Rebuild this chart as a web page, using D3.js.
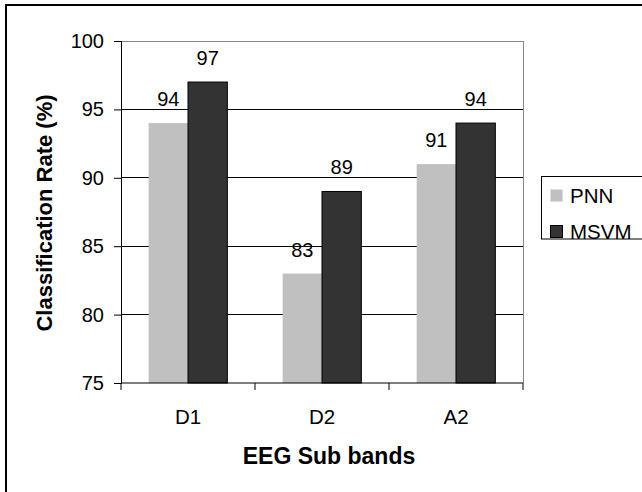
<!DOCTYPE html>
<html>
<head>
<meta charset="utf-8">
<script src="https://cdn.jsdelivr.net/npm/d3@7"></script>
<style>
  html, body { margin: 0; padding: 0; background: #fff; }
  svg { display: block; font-family: "Liberation Sans", Arial, Helvetica, sans-serif; }
</style>
</head>
<body>
<svg id="chart" width="642" height="492"></svg>
<script>
const categories = ["D1", "D2", "A2"];
const seriesNames = ["PNN", "MSVM"];
const pnnValues = [94, 83, 91];
const msvmValues = [97, 89, 94];
const yTicks = [75, 80, 85, 90, 95, 100];
const seriesColors = ["#c0c0c0", "#333333"];

const seriesValues = [pnnValues, msvmValues];
const svg = d3.select("#chart");

// outer frame
svg.append("rect")
  .attr("x", 6).attr("y", 5).attr("width", 700).attr("height", 600)
  .attr("fill", "#fff").attr("stroke", "#000").attr("stroke-width", 2);

const plot = { left: 121, right: 523, top: 41, bottom: 383 };

const x0 = d3.scaleBand().domain(categories)
  .range([plot.left, plot.right]).paddingInner(0.413).paddingOuter(0.2065);
const x1 = d3.scaleBand().domain(seriesNames).range([0, x0.bandwidth()]).padding(0);
const y = d3.scaleLinear().domain([75, 100]).range([plot.bottom, plot.top]);

// gridlines
svg.append("g").selectAll("line")
  .data(yTicks.filter(t => t > 75 && t < 100))
  .join("line")
  .attr("x1", plot.left).attr("x2", plot.right)
  .attr("y1", d => y(d)).attr("y2", d => y(d))
  .attr("stroke", "#000").attr("stroke-width", 1).attr("shape-rendering", "crispEdges");

// plot border top/right (gray)
svg.append("path")
  .attr("d", `M${plot.left},${y(100)}H${plot.right}V${plot.bottom}`)
  .attr("fill", "none").attr("stroke", "#888").attr("stroke-width", 1).attr("shape-rendering", "crispEdges");

// bars
const groups = svg.append("g").selectAll("g")
  .data(categories)
  .join("g")
  .attr("transform", d => `translate(${x0(d)},0)`);

groups.selectAll("rect")
  .data((d, i) => seriesNames.map((s, j) => ({ s, j, v: seriesValues[j][i] })))
  .join("rect")
  .attr("x", d => x1(d.s))
  .attr("y", d => y(d.v))
  .attr("width", x1.bandwidth())
  .attr("height", d => y(75) - y(d.v))
  .attr("fill", d => seriesColors[d.j])
  .attr("stroke", d => d.j === 1 ? "#000" : "none")
  .attr("stroke-width", 1);

groups.selectAll("text")
  .data((d, i) => seriesNames.map((s, j) => ({ s, j, v: seriesValues[j][i] })))
  .join("text")
  .attr("x", d => x1(d.s) + x1.bandwidth() / 2)
  .attr("y", d => y(d.v) - 17)
  .attr("text-anchor", "middle")
  .attr("font-size", 20)
  .attr("fill", "#000")
  .text(d => d.v);

// y axis
const yAxis = d3.axisLeft(y).tickValues(yTicks).tickSize(7).tickPadding(10);
const gy = svg.append("g").attr("transform", `translate(${plot.left},0)`).call(yAxis);
gy.select(".domain").attr("stroke", "#000");
gy.selectAll(".tick line").attr("stroke", "#000");
gy.selectAll("text").attr("font-size", 20).attr("fill", "#000")
  .attr("font-family", "Liberation Sans, Arial, sans-serif");

// x axis
const gx = svg.append("g").attr("transform", `translate(0,${plot.bottom})`);
gx.append("line").attr("x1", plot.left).attr("x2", plot.right)
  .attr("y1", 0).attr("y2", 0).attr("stroke", "#000");
const boundaries = [plot.left].concat(categories.map(c => x0(c) + x0.bandwidth() + x0.step() * x0.paddingInner() / 2));
boundaries[boundaries.length - 1] = plot.right;
gx.selectAll("line.tk").data(boundaries).join("line").attr("class", "tk")
  .attr("x1", d => d).attr("x2", d => d).attr("y1", 0).attr("y2", 7).attr("stroke", "#000");
gx.selectAll("text").data(categories).join("text")
  .attr("x", d => x0(d) + x0.bandwidth() / 2)
  .attr("y", 41)
  .attr("text-anchor", "middle")
  .attr("font-size", 20.5)
  .text(d => d);

// axis titles
svg.append("text")
  .attr("x", 329).attr("y", 464)
  .attr("text-anchor", "middle")
  .attr("font-size", 23).attr("font-weight", "bold")
  .text("EEG Sub bands");
svg.append("text")
  .attr("transform", `translate(51.5,${(plot.top + plot.bottom) / 2 + 1}) rotate(-90)`)
  .attr("text-anchor", "middle")
  .attr("font-size", 22).attr("font-weight", "bold")
  .text("Classification Rate (%)");

// legend
const lg = svg.append("g");
lg.append("rect").attr("x", 541.5).attr("y", 176.5).attr("width", 200).attr("height", 62.5)
  .attr("fill", "#fff").attr("stroke", "#000").attr("stroke-width", 1);
const items = lg.selectAll("g").data(seriesNames).join("g")
  .attr("transform", (d, i) => `translate(0,${195.5 + i * 36})`);
items.append("rect").attr("x", 550.5).attr("y", -6).attr("width", 12).attr("height", 12)
  .attr("fill", (d, i) => seriesColors[i])
  .attr("stroke", (d, i) => i === 1 ? "#000" : "none");
items.append("text").attr("x", 570).attr("y", 7.5).attr("font-size", 20.5).text(d => d);
</script>
</body>
</html>
